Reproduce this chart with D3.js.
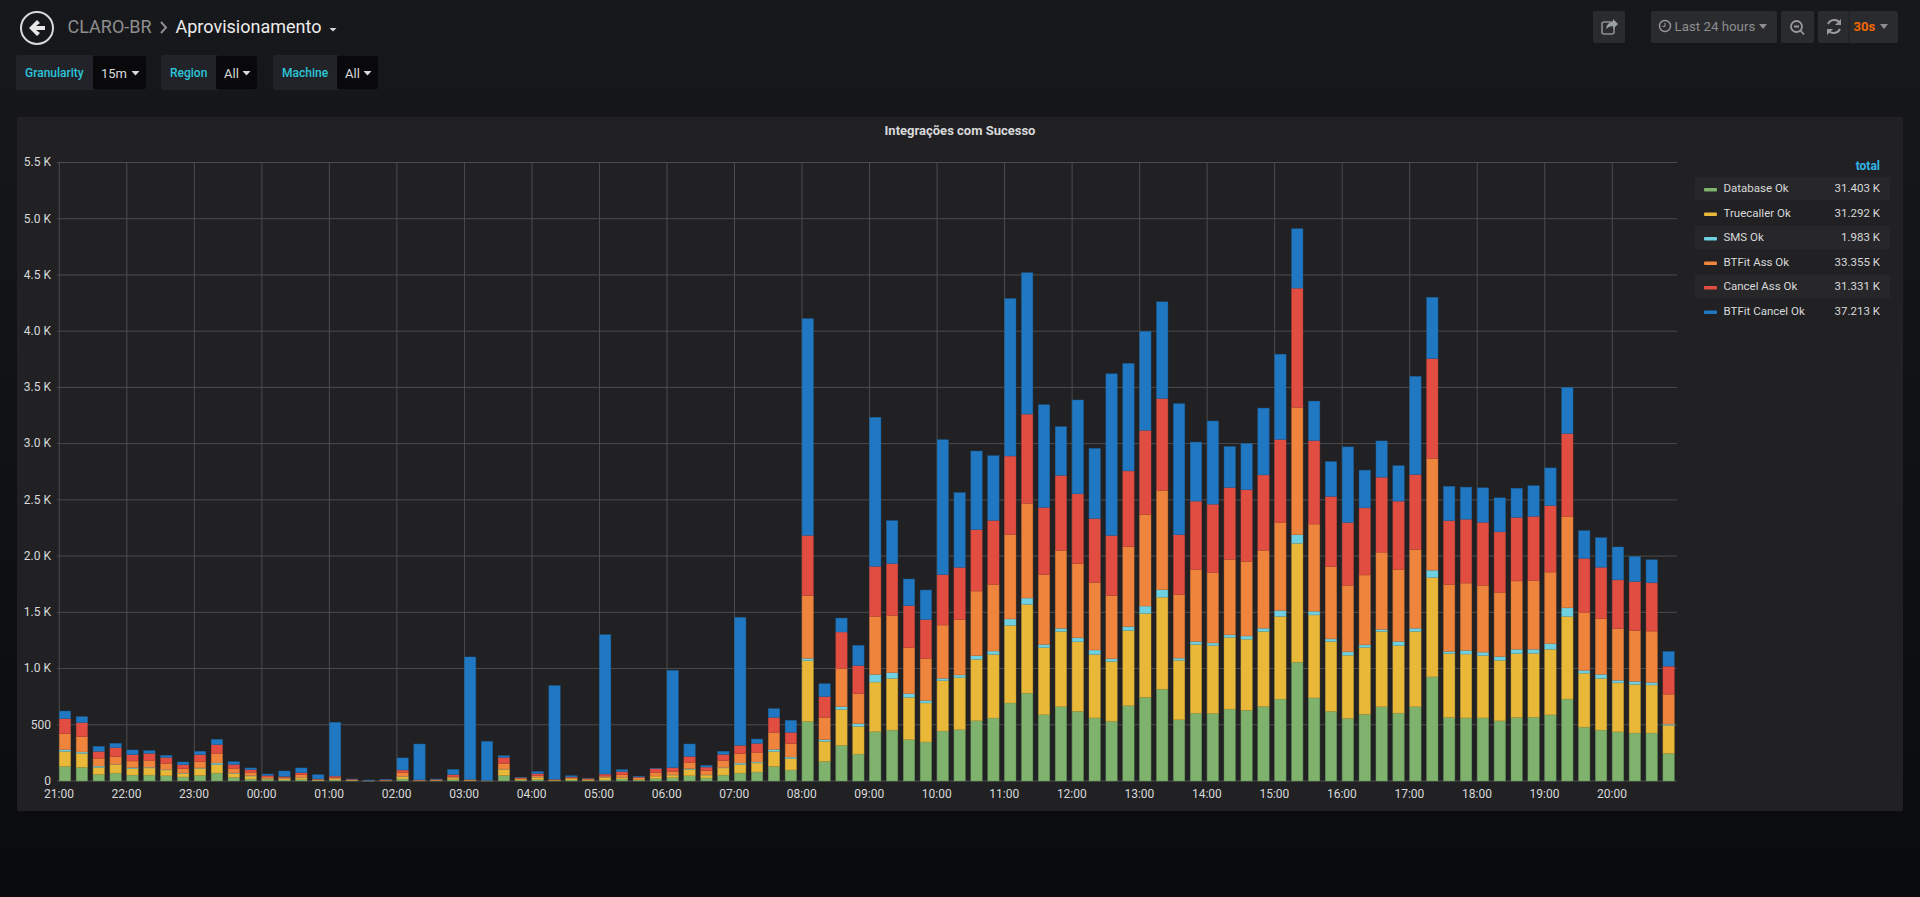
<!DOCTYPE html>
<html>
<head>
<meta charset="utf-8">
<title>Aprovisionamento</title>
<script src="https://cdn.jsdelivr.net/npm/d3@7"></script>
<style>
html, body { margin: 0; padding: 0; background: #0b0c0e; overflow: hidden; }
svg { display: block; font-family: Roboto, sans-serif; }
</style>
</head>
<body>
<script>
// values per 15 min bucket
var databaseOk = [130,122,59,71,53,53,47,36,50,71,33,18,15,9,12,3,9,4,1,2,18,2,3,12,3,1,50,9,12,3,9,5,9,18,9,21,30,47,27,53,71,80,130,98,531,175,317,240,439,453,368,347,445,456,536,560,694,782,590,661,620,561,532,670,745,817,545,604,601,640,630,663,729,1057,739,620,558,594,660,604,660,926,565,561,561,535,565,568,588,729,479,453,437,427,427,246];
var truecallerOk = [134,124,63,74,57,63,51,32,63,74,35,26,8,11,16,6,11,4,1,2,23,2,3,15,4,1,54,8,21,4,12,6,24,12,6,23,23,57,26,63,77,80,134,101,539,178,320,246,441,460,376,347,447,463,546,566,690,789,596,670,618,565,532,669,745,818,529,611,604,637,631,667,735,1057,738,621,561,594,670,601,670,883,568,568,555,539,568,568,584,735,480,460,436,433,427,250];
var smsOk = [15,12,11,3,9,6,3,3,3,15,3,3,1,1,2,1,1,0,0,0,1,0,0,1,0,0,1,0,1,0,0,0,1,1,0,0,1,6,1,3,12,9,18,14,21,15,24,24,68,50,33,23,21,24,32,30,57,56,29,27,36,39,23,33,66,66,19,26,23,23,29,29,53,76,33,23,30,23,19,36,29,66,19,33,30,32,39,36,49,76,26,36,23,26,23,10];
var btfitAssOk = [142,136,69,68,59,62,56,39,59,86,42,30,12,12,26,5,12,4,1,3,35,4,5,14,5,1,52,7,14,5,9,6,10,25,15,33,32,56,38,62,83,86,151,119,557,198,341,267,516,510,409,371,474,492,575,593,752,842,620,693,660,601,561,713,814,883,565,640,627,670,663,693,784,1132,775,643,591,621,686,640,699,994,595,598,594,572,607,611,637,814,515,496,460,453,456,266];
var cancelAssOk = [133,125,62,80,56,62,53,35,59,77,35,24,14,8,18,3,11,4,1,3,21,2,4,15,2,1,53,6,18,3,6,5,18,27,6,33,33,53,32,56,74,80,133,101,536,184,323,249,445,460,373,347,448,465,546,569,697,794,598,667,620,568,535,673,749,817,532,608,607,640,637,670,736,1061,742,624,558,597,667,608,667,887,568,568,561,538,565,571,591,735,480,456,433,434,430,249];
var btfitCancelOk = [68,53,44,39,42,24,18,24,30,47,24,15,12,48,42,38,478,2,5,2,107,319,3,45,1089,349,15,3,18,833,11,2,1239,18,5,3,865,110,15,27,1138,38,77,106,1927,115,124,180,1325,382,237,263,1200,664,699,575,1400,1257,913,433,834,624,1438,955,880,860,1165,525,739,364,411,594,758,528,351,309,673,335,322,315,873,545,305,285,306,302,259,272,335,411,246,263,292,223,204,131];

var seriesNames = ["Database Ok", "Truecaller Ok", "SMS Ok", "BTFit Ass Ok", "Cancel Ass Ok", "BTFit Cancel Ok"];
var seriesColors = ["#7eb26d", "#eab839", "#6ed0e0", "#ef843c", "#e24d42", "#1f78c1"];
var seriesTotals = ["31.403 K", "31.292 K", "1.983 K", "33.355 K", "31.331 K", "37.213 K"];
var yTicks = [0, 500, 1000, 1500, 2000, 2500, 3000, 3500, 4000, 4500, 5000, 5500];

var allSeries = [databaseOk, truecallerOk, smsOk, btfitAssOk, cancelAssOk, btfitCancelOk];

var W = 1920, H = 897;
var svg = d3.select("body").append("svg").attr("width", W).attr("height", H);

var defs = svg.append("defs");
var bg = defs.append("linearGradient").attr("id", "pagebg").attr("x1", 0).attr("y1", 0).attr("x2", 0).attr("y2", 1);
bg.append("stop").attr("offset", "0%").attr("stop-color", "#17181b");
bg.append("stop").attr("offset", "100%").attr("stop-color", "#0a0b0d");
svg.append("rect").attr("width", W).attr("height", H).attr("fill", "url(#pagebg)");

// panel
svg.append("rect").attr("x", 17).attr("y", 117).attr("width", 1886).attr("height", 694).attr("rx", 2).attr("fill", "#212124");

svg.append("text").attr("x", 960).attr("y", 134.5).attr("text-anchor", "middle")
    .style("font-size", "13px").style("font-weight", 700).attr("fill", "#d8d9da")
    .text("Integrações com Sucesso");

// scales
var start = new Date(Date.UTC(2018, 0, 1, 21, 0));
var end = new Date(Date.UTC(2018, 0, 2, 21, 0));
var times = d3.range(96).map(function(i) { return d3.utcMinute.offset(start, i * 15); });

var x = d3.scaleUtc().domain([start, end]).range([59.3, 1679.8]);
var y = d3.scaleLinear().domain([0, 5500]).range([781, 162.5]);

// stack
var rows = times.map(function(t, i) {
    var row = { time: t };
    seriesNames.forEach(function(n, s) { row[n] = allSeries[s][i]; });
    return row;
});
var stacked = d3.stack().keys(seriesNames)(rows);

// grid
var yAxis = d3.axisLeft(y).tickValues(yTicks).tickSize(0).tickPadding(6)
    .tickFormat(function(d) { return d < 1000 ? String(d) : (d / 1000).toFixed(1) + " K"; });
var gy = svg.append("g").attr("transform", "translate(57,-0.5)").call(yAxis);
gy.select(".domain").remove();
gy.selectAll("text").attr("fill", "#d8d9da").style("font-size", "12px").style("font-family", "Roboto, sans-serif");
svg.append("g").selectAll("line").data(yTicks).enter().append("line")
    .attr("x1", 57).attr("x2", 1677)
    .attr("y1", function(d) { return y(d); }).attr("y2", function(d) { return y(d); })
    .attr("stroke", "#4c4c4e").attr("stroke-width", 1);

var hours = d3.utcHour.range(start, d3.utcHour.offset(start, 24));
var xAxis = d3.axisBottom(x).tickValues(hours).tickSize(0).tickPadding(8)
    .tickFormat(d3.utcFormat("%H:%M"));
var gx = svg.append("g").attr("transform", "translate(-0.8,781)").call(xAxis);
gx.select(".domain").remove();
gx.selectAll("text").attr("fill", "#d8d9da").style("font-size", "12px").style("font-family", "Roboto, sans-serif");
svg.append("g").selectAll("line").data(hours).enter().append("line")
    .attr("x1", function(d) { return x(d); }).attr("x2", function(d) { return x(d); })
    .attr("y1", 162.5).attr("y2", 781)
    .attr("stroke", "#4c4c4e").attr("stroke-width", 1);

// bars
var barW = (x(times[1]) - x(times[0])) * 0.675;
var groups = svg.append("g").selectAll("g").data(stacked).enter().append("g")
    .attr("fill", function(d, i) { return seriesColors[i]; })
    .attr("stroke", function(d, i) { return d3.color(seriesColors[i]).darker(0.6); });
groups.selectAll("rect").data(function(d) { return d; }).enter().append("rect")
    .attr("x", function(d) { return x(d.data.time); })
    .attr("width", barW)
    .attr("y", function(d) { return y(d[1]); })
    .attr("height", function(d) { return Math.max(0, y(d[0]) - y(d[1])); })
    .attr("stroke-width", 0.6)
    .attr("stroke-opacity", 0.7);

// legend
var legendTop = 176, legendStep = 24.5;
svg.append("text").attr("x", 1880).attr("y", 170).attr("text-anchor", "end")
    .style("font-size", "12px").style("font-weight", 700).attr("fill", "#33b5e5").text("total");
var leg = svg.append("g").selectAll("g").data(seriesNames).enter().append("g")
    .attr("transform", function(d, i) { return "translate(0," + (legendTop + i * legendStep) + ")"; });
leg.append("rect").attr("x", 1695).attr("y", 1).attr("width", 195).attr("height", 23.5)
    .attr("fill", function(d, i) { return i % 2 === 0 ? "#27272a" : "none"; });
leg.append("rect").attr("x", 1704).attr("y", 12).attr("width", 13).attr("height", 3.5).attr("rx", 1)
    .attr("fill", function(d, i) { return seriesColors[i]; });
leg.append("text").attr("x", 1723.5).attr("y", 16).style("font-size", "11.5px").attr("fill", "#d8d9da")
    .text(function(d) { return d; });
leg.append("text").attr("x", 1880).attr("y", 16).attr("text-anchor", "end").style("font-size", "11.5px").attr("fill", "#d8d9da")
    .text(function(d, i) { return seriesTotals[i]; });

// top nav
var nav = svg.append("g");
nav.append("circle").attr("cx", 37).attr("cy", 28).attr("r", 16).attr("fill", "none").attr("stroke", "#d8d9da").attr("stroke-width", 2);
nav.append("path").attr("d", "M29 28 L37 20 L40 23 L36 26 L45 26 L45 30 L36 30 L40 33 L37 36 Z").attr("fill", "#e8e8e8");
nav.append("text").attr("x", 67.5).attr("y", 33).style("font-size", "18px").attr("fill", "#8e8e8e").text("CLARO-BR");
nav.append("path").attr("d", "M161 22 L166 27.5 L161 33").attr("fill", "none").attr("stroke", "#8e8e8e").attr("stroke-width", 2);
nav.append("text").attr("x", 175.5).attr("y", 33).style("font-size", "18px").attr("fill", "#ececec").text("Aprovisionamento");
nav.append("path").attr("d", "M329.5 28 L336.5 28 L333 31.5 Z").attr("fill", "#d8d9da");

// template variables
var tplVars = [
    { label: "Granularity", value: "15m", x0: 16, x1: 93, x2: 146 },
    { label: "Region", value: "All", x0: 161, x1: 216, x2: 257 },
    { label: "Machine", value: "All", x0: 273, x1: 337, x2: 378 }
];
var tv = svg.append("g").selectAll("g").data(tplVars).enter().append("g");
tv.append("rect").attr("x", function(d) { return d.x0; }).attr("y", 55).attr("height", 35).attr("rx", 2)
    .attr("width", function(d) { return d.x2 - d.x0; }).attr("fill", "#212328");
tv.append("rect").attr("x", function(d) { return d.x1; }).attr("y", 55.5).attr("height", 34).attr("rx", 2)
    .attr("width", function(d) { return d.x2 - d.x1; }).attr("fill", "#09090b");
tv.append("text").attr("x", function(d) { return d.x0 + 9; }).attr("y", 77)
    .style("font-size", "12px").style("font-weight", 500).attr("fill", "#2cc5d9").text(function(d) { return d.label; });
tv.append("text").attr("x", function(d) { return d.x1 + 8; }).attr("y", 78)
    .style("font-size", "13px").attr("fill", "#d8d9da").text(function(d) { return d.value; });
tv.append("path").attr("d", function(d) {
    var cx = d.x2 - 10.5;
    return "M" + (cx - 4) + " 71 L" + (cx + 4) + " 71 L" + cx + " 75.5 Z";
}).attr("fill", "#d8d9da");

// toolbar buttons
var btns = [[1593, 32], [1651, 126], [1781, 33], [1818, 80]];
svg.append("g").selectAll("rect").data(btns).enter().append("rect")
    .attr("x", function(d) { return d[0]; }).attr("y", 11).attr("width", function(d) { return d[1]; })
    .attr("height", 32).attr("rx", 2).attr("fill", "#2a2b2e");
var tb = svg.append("g");
tb.append("rect").attr("x", 1602).attr("y", 22).attr("width", 12).attr("height", 12).attr("rx", 2).attr("fill", "none").attr("stroke", "#8e8e8e").attr("stroke-width", 1.6);
tb.append("path").attr("d", "M1606 29 Q1607 22 1613 22 L1613 19 L1618 24 L1613 29 L1613 26 Q1609 26 1606 29 Z").attr("fill", "#9aa0a4");
tb.append("circle").attr("cx", 1665).attr("cy", 26).attr("r", 5.5).attr("fill", "none").attr("stroke", "#9a9a9a").attr("stroke-width", 1.4);
tb.append("path").attr("d", "M1665 23 L1665 26.5 L1662.5 26.5").attr("fill", "none").attr("stroke", "#9a9a9a").attr("stroke-width", 1);
tb.append("text").attr("x", 1674.5).attr("y", 31).style("font-size", "13.3px").attr("fill", "#8e8e8e").text("Last 24 hours");
tb.append("path").attr("d", "M1759 24 L1767 24 L1763 29 Z").attr("fill", "#8e8e8e");
tb.append("circle").attr("cx", 1796.5).attr("cy", 26.5).attr("r", 5.5).attr("fill", "none").attr("stroke", "#9a9a9a").attr("stroke-width", 1.8);
tb.append("path").attr("d", "M1794 26.5 L1799 26.5 M1800.5 30.5 L1804 34.5").attr("stroke", "#9a9a9a").attr("stroke-width", 1.8);
tb.append("path").attr("d", "M1828 24 A7 7 0 0 1 1840 23 M1840 29 A7 7 0 0 1 1828 30").attr("fill", "none").attr("stroke", "#9a9a9a").attr("stroke-width", 2);
tb.append("path").attr("d", "M1841 19 L1841 25 L1835 25 Z M1827 35 L1827 29 L1833 29 Z").attr("fill", "#9a9a9a");
tb.append("line").attr("x1", 1849).attr("x2", 1849).attr("y1", 11).attr("y2", 43).attr("stroke", "#1f2023");
tb.append("text").attr("x", 1853.5).attr("y", 31).style("font-size", "13px").style("font-weight", 700).attr("fill", "#f46800").text("30s");
tb.append("path").attr("d", "M1880 24 L1888 24 L1884 29 Z").attr("fill", "#8e8e8e");
</script>
</body>
</html>
